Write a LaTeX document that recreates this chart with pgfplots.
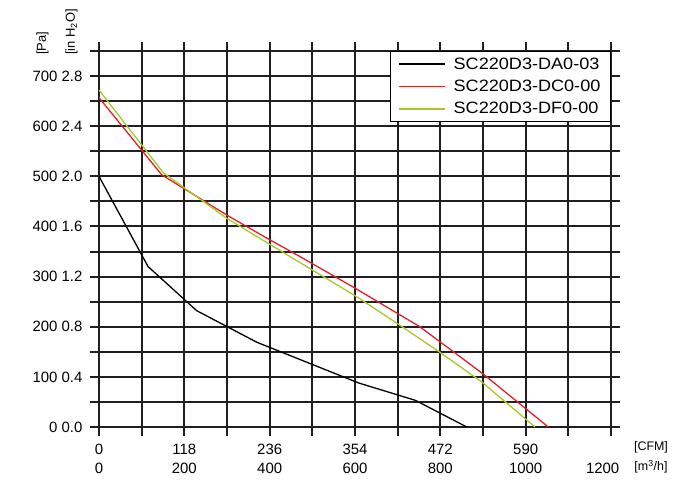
\documentclass[border=0pt]{standalone}
\usepackage{fontspec}
\setmainfont{Liberation Sans}
\usepackage{graphicx}
\usepackage{pgfplots}
\pgfplotsset{compat=1.18}
\definecolor{gridc}{HTML}{231F20}
\definecolor{redc}{HTML}{E0202A}
\definecolor{greenc}{HTML}{A8C828}
\begin{document}
\begin{tikzpicture}
\begin{axis}[
  at={(0,0)}, anchor=south west,
  scale only axis, width=512bp, height=376bp,
  xmin=0, xmax=1200, ymin=0, ymax=750,
  xtick={0,100,...,1200},
  xticklabels={{0\\0},{},{118\\200},{},{236\\400},{},{354\\600},{},{472\\800},{},{590\\1000},{},{\phantom{0}\\1200\hphantom{00}}},
  ytick={0,50,...,750},
  yticklabels={{0 0.0},{},{100 0.4},{},{200 0.8},{},{300 1.2},{},{400 1.6},{},{500 2.0},{},{600 2.4},{},{700 2.8},{}},
  tick align=outside, major tick length=9bp,
  grid=major,
  axis line style={gridc, line width=2bp},
  every tick/.style={gridc, line width=2bp},
  major grid style={gridc, line width=2bp},
  /pgf/number format/assume math mode=true,
  xticklabel style={align=center, font=\fontsize{15}{18.5}\selectfont, text=black, yshift=-5bp},
  yticklabel style={font=\fontsize{15}{18}\selectfont, text=black, xshift=-4bp},
  legend style={at={(1,1)}, anchor=north east, draw=black, line width=1.2bp, fill=white,
    font=\fontsize{16.5}{19}\selectfont, row sep=5.5bp, inner xsep=8bp, inner ysep=4bp},
  legend cell align=left,
  legend image code/.code={\draw[#1, line width=1.5bp] (0bp,0bp) -- (46bp,0bp); \path (52bp,0bp);},
]
\addplot[black, line width=1.3bp, mark=none] coordinates {
  (0,500) (115,320) (229,232) (370,169) (608,88) (742,53) (862,0)
};
\addplot[redc, line width=1.3bp, mark=none] coordinates {
  (0,657) (147,503) (303,421) (397,375) (471,340) (600,277) (752,200) (900,106) (1053,0)
};
\addplot[greenc, line width=1.3bp, mark=none] coordinates {
  (0,672) (151,507) (300,416) (471,328) (600,262) (700,206) (799,149) (897,90) (1022,0)
};
\legend{\scalebox{1.1}[1]{SC220D3-DA0-03},\scalebox{1.1}[1]{SC220D3-DC0-00},\scalebox{1.1}[1]{SC220D3-DF0-00}}
\end{axis}
\node[rotate=90, anchor=west, inner sep=0pt, font=\fontsize{13}{15}\selectfont] at (-56.5bp,372bp) {[Pa]};
\node[rotate=90, anchor=west, inner sep=0pt, font=\fontsize{13}{15}\selectfont] at (-27.5bp,372bp) {[in H\textsubscript{2}O]};
\node[inner sep=0pt, font=\fontsize{12.5}{14}\selectfont] at (552bp,-20bp) {[CFM]};
\node[inner sep=0pt, font=\fontsize{12.5}{14}\selectfont] at (552bp,-40bp) {[m\textsuperscript{3}/h]};
\pgfresetboundingbox
\path[use as bounding box] (-99bp,-63bp) rectangle (601bp,427bp);
\end{tikzpicture}
\end{document}
